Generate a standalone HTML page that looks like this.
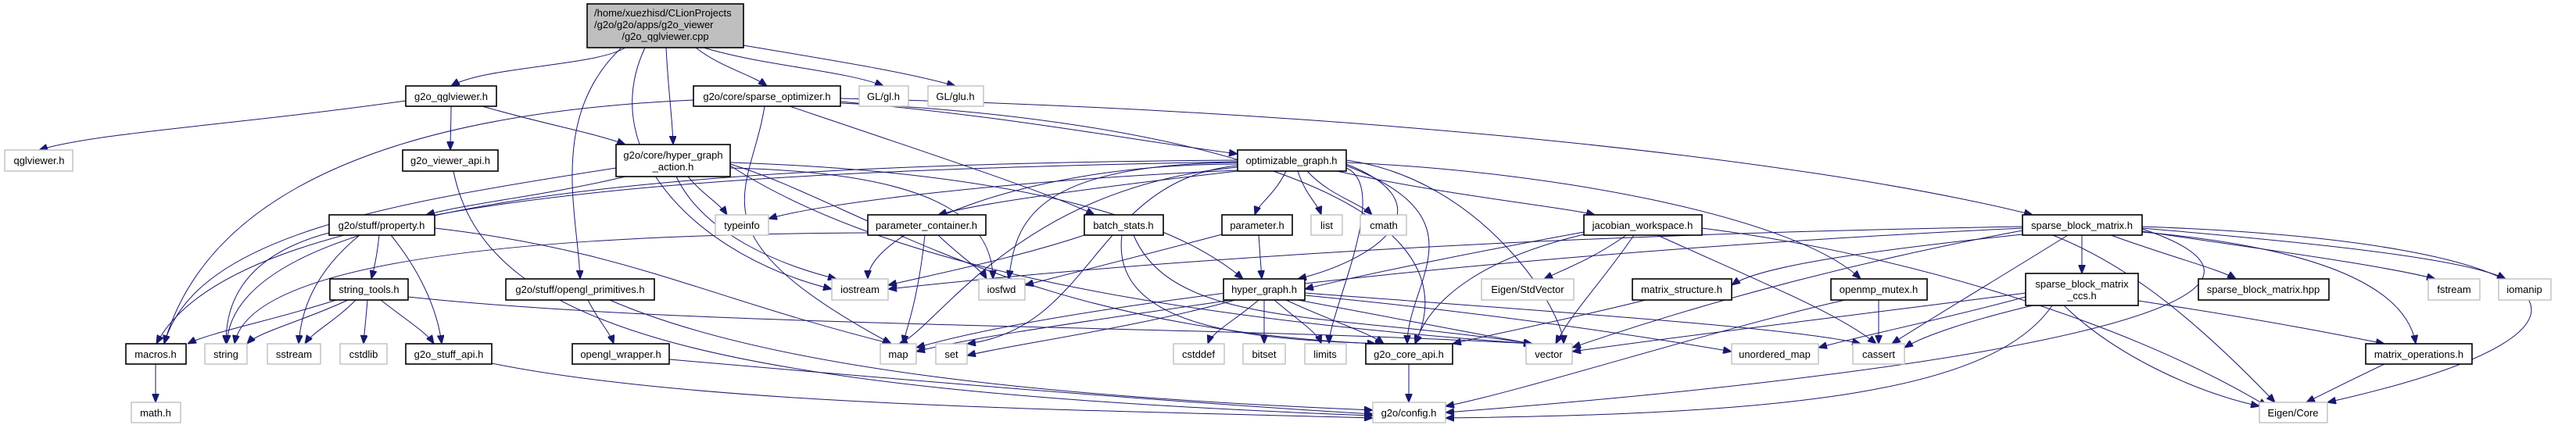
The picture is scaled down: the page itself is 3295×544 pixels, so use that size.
<!DOCTYPE html>
<html><head><meta charset="utf-8"><style>
html,body{margin:0;padding:0;background:#fff;width:3295px;height:544px;overflow:hidden}
svg{display:block}
text{font-family:"Liberation Sans",Arial,sans-serif;font-size:13px;fill:#000}
.d{fill:#fff;stroke:#000;stroke-width:1.6}
.x{fill:#fff;stroke:#bfbfbf;stroke-width:1.4}
.e path{fill:none;stroke:#191970;stroke-width:1;marker-end:url(#a)}
</style></head><body>
<svg width="3295" height="544" viewBox="0 0 3295 544" xmlns="http://www.w3.org/2000/svg">
<defs><marker id="a" markerUnits="userSpaceOnUse" markerWidth="11" markerHeight="9" refX="11" refY="4.5" orient="auto"><path d="M0,0 L11,4.5 L0,9 z" fill="#191970" stroke="#191970"/></marker></defs>
<g class="e">
<path d="M800 61 C760 85 620 85 577 110"/>
<path d="M900 61 C980 85 1080 90 1130 110"/>
<path d="M951 58 C1050 75 1150 90 1222 110"/>
<path d="M890 61 C920 85 960 95 981 110"/>
<path d="M852 61 C855 120 860 150 861 185"/>
<path d="M795 61 C700 150 740 280 742 357"/>
<path d="M825 61 C760 200 900 330 1064 370"/>
<path d="M519 129 C300 160 120 170 50 192"/>
<path d="M577 136 C577 160 576 175 576 192"/>
<path d="M617 136 C700 160 760 170 800 185"/>
<path d="M580 219 C620 420 900 500 1756 532"/>
<path d="M887 128 C400 150 250 300 210 440"/>
<path d="M1075 130 C1300 150 1450 180 1583 197"/>
<path d="M1010 136 C1200 200 1350 250 1400 275"/>
<path d="M1075 126 C1700 140 2300 200 2600 275"/>
<path d="M1075 132 C1500 150 1900 250 1810 440"/>
<path d="M978 136 C960 250 880 300 1140 440"/>
<path d="M800 226 C700 250 600 260 545 275"/>
<path d="M880 226 C900 250 920 260 930 275"/>
<path d="M865 226 C900 300 1000 340 1070 357"/>
<path d="M934 208 C1300 220 1500 280 1590 357"/>
<path d="M934 210 C1100 260 1300 420 1760 440"/>
<path d="M788 215 C500 260 250 300 210 440"/>
<path d="M934 215 C1150 220 1270 260 1270 357"/>
<path d="M934 212 C1100 320 1400 400 1960 440"/>
<path d="M1583 219 C1400 240 1250 260 1200 275"/>
<path d="M1645 219 C1630 250 1610 260 1605 275"/>
<path d="M1660 219 C1670 250 1685 260 1690 275"/>
<path d="M1672 219 C1700 250 1740 260 1755 275"/>
<path d="M1710 219 C1850 250 2000 265 2040 275"/>
<path d="M1722 210 C1850 260 1770 330 1660 357"/>
<path d="M1722 212 C1900 280 1800 360 1800 440"/>
<path d="M1722 215 C1780 240 1700 400 1700 440"/>
<path d="M1583 218 C1300 230 1050 260 983 280"/>
<path d="M1583 210 C1300 210 1110 300 1110 357"/>
<path d="M1583 208 C1300 210 1300 300 1290 357"/>
<path d="M1583 205 C900 210 300 250 290 440"/>
<path d="M1583 207 C900 220 300 250 200 440"/>
<path d="M1583 212 C1400 230 1400 420 1237 440"/>
<path d="M1722 205 C1900 230 2000 400 2000 440"/>
<path d="M1722 208 C2000 220 2300 280 2380 357"/>
<path d="M1583 214 C1300 240 1200 420 1150 440"/>
<path d="M485 301 C482 330 478 345 475 357"/>
<path d="M421 298 C300 330 289 400 289 440"/>
<path d="M460 301 C400 350 385 400 382 440"/>
<path d="M500 301 C540 350 560 400 565 440"/>
<path d="M556 292 C800 320 900 380 1140 440"/>
<path d="M430 384 C350 410 270 425 240 440"/>
<path d="M445 384 C390 410 330 425 316 440"/>
<path d="M455 384 C430 410 400 425 390 440"/>
<path d="M470 384 C468 410 466 425 465 440"/>
<path d="M487 384 C520 410 545 425 555 440"/>
<path d="M522 380 C900 420 1500 415 1960 440"/>
<path d="M752 384 C765 410 780 425 785 440"/>
<path d="M780 384 C1000 480 1400 510 1756 525"/>
<path d="M856 460 C1200 490 1500 515 1756 530"/>
<path d="M629 465 C900 520 1400 525 1756 535"/>
<path d="M199 466 C199 490 199 500 199 515"/>
<path d="M1183 301 C1175 380 1160 420 1155 440"/>
<path d="M1200 301 C1230 330 1255 345 1262 357"/>
<path d="M1110 298 C700 300 320 330 300 440"/>
<path d="M1387 301 C1300 330 1200 350 1136 365"/>
<path d="M1435 301 C1420 420 1600 435 1770 440"/>
<path d="M1450 301 C1500 420 1700 400 1960 440"/>
<path d="M1610 301 C1612 330 1613 345 1614 357"/>
<path d="M1563 300 C1450 330 1350 355 1311 365"/>
<path d="M1575 384 C1400 410 1250 430 1172 450"/>
<path d="M1580 384 C1450 420 1300 440 1237 455"/>
<path d="M1610 384 C1580 410 1550 425 1545 440"/>
<path d="M1617 384 C1617 410 1617 425 1617 440"/>
<path d="M1630 384 C1660 410 1685 425 1690 440"/>
<path d="M1645 384 C1700 410 1750 425 1770 440"/>
<path d="M1660 384 C1800 410 1900 430 1960 440"/>
<path d="M1669 378 C1900 400 2100 430 2215 450"/>
<path d="M1669 375 C2000 400 2300 420 2380 440"/>
<path d="M2080 301 C2040 330 2000 345 1975 357"/>
<path d="M2090 301 C2050 360 2010 400 1990 440"/>
<path d="M2026 300 C1900 330 1830 380 1810 440"/>
<path d="M2120 301 C2250 360 2350 400 2400 440"/>
<path d="M2177 292 C2400 320 2700 400 2900 520"/>
<path d="M2026 297 C1900 320 1750 350 1669 370"/>
<path d="M2105 384 C2000 410 1900 430 1858 440"/>
<path d="M1802 466 C1802 490 1802 500 1802 515"/>
<path d="M2403 384 C2403 410 2403 425 2403 440"/>
<path d="M2360 384 C2200 420 1950 500 1849 520"/>
<path d="M2663 301 C2663 320 2663 335 2663 350"/>
<path d="M2700 301 C2780 330 2840 345 2860 357"/>
<path d="M2740 296 C2900 320 3050 340 3115 357"/>
<path d="M2740 292 C2950 310 3150 330 3205 357"/>
<path d="M2740 297 C3000 320 3080 380 3090 440"/>
<path d="M2740 290 C3300 310 3400 420 2977 515"/>
<path d="M2645 301 C2550 360 2450 420 2420 440"/>
<path d="M2587 290 C2000 300 1500 330 1136 370"/>
<path d="M2587 295 C2400 330 2200 380 2011 445"/>
<path d="M2587 300 C2400 320 2250 340 2215 365"/>
<path d="M2740 293 C3000 380 2600 470 1849 528"/>
<path d="M2587 292 C2000 320 1400 380 1172 445"/>
<path d="M2587 288 C2700 320 2800 400 2910 515"/>
<path d="M2591 380 C2480 410 2380 430 2326 445"/>
<path d="M2600 391 C2520 410 2460 430 2436 445"/>
<path d="M2591 375 C2400 400 2150 430 2011 450"/>
<path d="M2625 391 C2550 500 2300 530 1849 535"/>
<path d="M2735 385 C2900 410 3000 430 3050 440"/>
<path d="M2640 391 C2700 450 2800 500 2890 520"/>
<path d="M3050 466 C3000 490 2970 505 2950 515"/>
</g>
<g>
<rect x="751" y="5" width="200" height="56" fill="#bfbfbf" stroke="#000" stroke-width="1.6"/>
<text x="760" y="21">/home/xuezhisd/CLionProjects</text>
<text x="760" y="36">/g2o/g2o/apps/g2o_viewer</text>
<text x="851" y="51" text-anchor="middle">/g2o_qglviewer.cpp</text>

<rect class="x" x="1099" y="110" width="63" height="26"/><text x="1130" y="128" text-anchor="middle">GL/gl.h</text>
<rect class="x" x="1187" y="110" width="71" height="26"/><text x="1222" y="128" text-anchor="middle">GL/glu.h</text>
<rect class="d" x="519" y="110" width="116" height="26"/><text x="577" y="128" text-anchor="middle">g2o_qglviewer.h</text>
<rect class="d" x="887" y="110" width="188" height="26"/><text x="981" y="128" text-anchor="middle">g2o/core/sparse_optimizer.h</text>

<rect class="x" x="6" y="192" width="87" height="27"/><text x="50" y="210" text-anchor="middle">qglviewer.h</text>
<rect class="d" x="515" y="192" width="122" height="27"/><text x="576" y="210" text-anchor="middle">g2o_viewer_api.h</text>
<rect class="d" x="788" y="185" width="146" height="41"/><text x="861" y="203" text-anchor="middle">g2o/core/hyper_graph</text><text x="861" y="218" text-anchor="middle">_action.h</text>
<rect class="d" x="1583" y="192" width="139" height="27"/><text x="1652" y="210" text-anchor="middle">optimizable_graph.h</text>

<rect class="d" x="421" y="275" width="135" height="26"/><text x="488" y="293" text-anchor="middle">g2o/stuff/property.h</text>
<rect class="x" x="915" y="275" width="68" height="26"/><text x="949" y="293" text-anchor="middle">typeinfo</text>
<rect class="d" x="1110" y="275" width="151" height="26"/><text x="1185" y="293" text-anchor="middle">parameter_container.h</text>
<rect class="d" x="1387" y="275" width="101" height="26"/><text x="1437" y="293" text-anchor="middle">batch_stats.h</text>
<rect class="d" x="1563" y="275" width="90" height="26"/><text x="1608" y="293" text-anchor="middle">parameter.h</text>
<rect class="x" x="1677" y="275" width="40" height="26"/><text x="1697" y="293" text-anchor="middle">list</text>
<rect class="x" x="1740" y="275" width="59" height="26"/><text x="1770" y="293" text-anchor="middle">cmath</text>
<rect class="d" x="2026" y="275" width="151" height="26"/><text x="2101" y="293" text-anchor="middle">jacobian_workspace.h</text>
<rect class="d" x="2587" y="275" width="153" height="26"/><text x="2663" y="293" text-anchor="middle">sparse_block_matrix.h</text>

<rect class="d" x="422" y="357" width="100" height="27"/><text x="472" y="375" text-anchor="middle">string_tools.h</text>
<rect class="d" x="647" y="357" width="190" height="27"/><text x="742" y="375" text-anchor="middle">g2o/stuff/opengl_primitives.h</text>
<rect class="x" x="1064" y="357" width="72" height="27"/><text x="1100" y="375" text-anchor="middle">iostream</text>
<rect class="x" x="1252" y="357" width="59" height="27"/><text x="1281" y="375" text-anchor="middle">iosfwd</text>
<rect class="d" x="1565" y="357" width="104" height="27"/><text x="1617" y="375" text-anchor="middle">hyper_graph.h</text>
<rect class="x" x="1895" y="357" width="118" height="27"/><text x="1954" y="375" text-anchor="middle">Eigen/StdVector</text>
<rect class="d" x="2088" y="357" width="127" height="27"/><text x="2151" y="375" text-anchor="middle">matrix_structure.h</text>
<rect class="d" x="2342" y="357" width="123" height="27"/><text x="2403" y="375" text-anchor="middle">openmp_mutex.h</text>
<rect class="d" x="2591" y="350" width="144" height="41"/><text x="2663" y="368" text-anchor="middle">sparse_block_matrix</text><text x="2663" y="383" text-anchor="middle">_ccs.h</text>
<rect class="d" x="2812" y="357" width="167" height="27"/><text x="2895" y="375" text-anchor="middle">sparse_block_matrix.hpp</text>
<rect class="x" x="3106" y="357" width="66" height="27"/><text x="3139" y="375" text-anchor="middle">fstream</text>
<rect class="x" x="3196" y="357" width="67" height="27"/><text x="3229" y="375" text-anchor="middle">iomanip</text>

<rect class="d" x="161" y="440" width="77" height="26"/><text x="199" y="458" text-anchor="middle">macros.h</text>
<rect class="x" x="262" y="440" width="54" height="26"/><text x="289" y="458" text-anchor="middle">string</text>
<rect class="x" x="342" y="440" width="68" height="26"/><text x="376" y="458" text-anchor="middle">sstream</text>
<rect class="x" x="435" y="440" width="60" height="26"/><text x="465" y="458" text-anchor="middle">cstdlib</text>
<rect class="d" x="519" y="440" width="110" height="26"/><text x="574" y="458" text-anchor="middle">g2o_stuff_api.h</text>
<rect class="d" x="732" y="440" width="124" height="26"/><text x="794" y="458" text-anchor="middle">opengl_wrapper.h</text>
<rect class="x" x="1126" y="440" width="46" height="26"/><text x="1149" y="458" text-anchor="middle">map</text>
<rect class="x" x="1197" y="440" width="40" height="26"/><text x="1217" y="458" text-anchor="middle">set</text>
<rect class="x" x="1501" y="440" width="65" height="26"/><text x="1533" y="458" text-anchor="middle">cstddef</text>
<rect class="x" x="1590" y="440" width="54" height="26"/><text x="1617" y="458" text-anchor="middle">bitset</text>
<rect class="x" x="1669" y="440" width="53" height="26"/><text x="1695" y="458" text-anchor="middle">limits</text>
<rect class="d" x="1747" y="440" width="111" height="26"/><text x="1802" y="458" text-anchor="middle">g2o_core_api.h</text>
<rect class="x" x="1952" y="440" width="59" height="26"/><text x="1981" y="458" text-anchor="middle">vector</text>
<rect class="x" x="2215" y="440" width="111" height="26"/><text x="2270" y="458" text-anchor="middle">unordered_map</text>
<rect class="x" x="2370" y="440" width="66" height="26"/><text x="2403" y="458" text-anchor="middle">cassert</text>
<rect class="d" x="3026" y="440" width="136" height="26"/><text x="3094" y="458" text-anchor="middle">matrix_operations.h</text>

<rect class="x" x="168" y="515" width="63" height="26"/><text x="199" y="533" text-anchor="middle">math.h</text>
<rect class="x" x="1756" y="515" width="93" height="26"/><text x="1802" y="533" text-anchor="middle">g2o/config.h</text>
<rect class="x" x="2890" y="515" width="87" height="26"/><text x="2933" y="533" text-anchor="middle">Eigen/Core</text>
</g>
</svg>
</body></html>
